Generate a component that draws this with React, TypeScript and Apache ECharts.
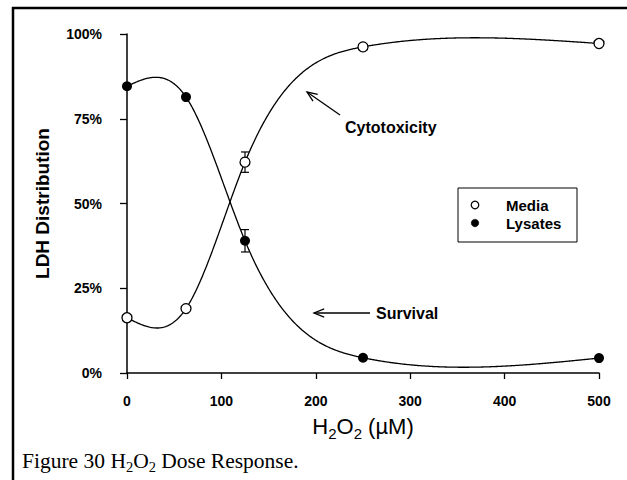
import React, { useEffect, useRef } from "react";
import * as echarts from "echarts";

// ---- data ----
const doses = [0, 62.5, 125, 250, 500]; // H2O2 (µM)
const mediaValues = [16.3, 19.0, 62.2, 96.2, 97.2]; // % LDH in media (cytotoxicity)
const mediaErrors = [0, 0, 3.0, 0, 0];
const lysateValues = [84.6, 81.4, 39.0, 4.5, 4.4]; // % LDH in lysates (survival)
const lysateErrors = [0, 0, 3.3, 0, 0];
const xTicks = [0, 100, 200, 300, 400, 500];
const yTicks = [0, 25, 50, 75, 100];
const legendNames = ["Media", "Lysates"];

const FONT = '"Liberation Sans", Arial, Helvetica, sans-serif';
const SERIF = '"Liberation Serif", "Times New Roman", serif';

// natural cubic spline through the data points (data space)
function naturalSpline(xs: number[], ys: number[]) {
  const n = xs.length;
  const h: number[] = [];
  for (let i = 0; i < n - 1; i++) h[i] = xs[i + 1] - xs[i];
  const alpha: number[] = [0];
  for (let i = 1; i < n - 1; i++)
    alpha[i] = (3 / h[i]) * (ys[i + 1] - ys[i]) - (3 / h[i - 1]) * (ys[i] - ys[i - 1]);
  const l: number[] = [1];
  const mu: number[] = [0];
  const z: number[] = [0];
  for (let i = 1; i < n - 1; i++) {
    l[i] = 2 * (xs[i + 1] - xs[i - 1]) - h[i - 1] * mu[i - 1];
    mu[i] = h[i] / l[i];
    z[i] = (alpha[i] - h[i - 1] * z[i - 1]) / l[i];
  }
  l[n - 1] = 1;
  z[n - 1] = 0;
  const c: number[] = new Array(n).fill(0);
  const b: number[] = [];
  const d: number[] = [];
  for (let j = n - 2; j >= 0; j--) {
    c[j] = z[j] - mu[j] * c[j + 1];
    b[j] = (ys[j + 1] - ys[j]) / h[j] - (h[j] * (c[j + 1] + 2 * c[j])) / 3;
    d[j] = (c[j + 1] - c[j]) / (3 * h[j]);
  }
  return (x: number) => {
    let j = 0;
    while (j < n - 2 && x > xs[j + 1]) j++;
    const dx = x - xs[j];
    return ys[j] + b[j] * dx + c[j] * dx * dx + d[j] * dx * dx * dx;
  };
}

function curveSeries(name: string, ys: number[]) {
  return {
    type: "custom",
    name,
    silent: true,
    clip: false,
    z: 2,
    data: [[doses[0], ys[0]]],
    renderItem: (params: any, api: any) => {
      const f = naturalSpline(doses, ys);
      const pts: number[][] = [];
      const x0 = doses[0];
      const x1 = doses[doses.length - 1];
      for (let x = x0; x <= x1; x += 1) pts.push(api.coord([x, f(x)]));
      return {
        type: "polyline",
        shape: { points: pts },
        style: { stroke: "#000", lineWidth: 1.3, fill: null },
      };
    },
  };
}

function errorSeries(name: string, vals: number[], errs: number[]) {
  const data = doses
    .map((d, i) => [d, vals[i] - errs[i], vals[i] + errs[i]])
    .filter((_, i) => errs[i] > 0);
  return {
    type: "custom",
    name,
    silent: true,
    clip: false,
    z: 3,
    encode: { x: 0, y: [1, 2] },
    data,
    renderItem: (params: any, api: any) => {
      const x = api.value(0);
      const lo = api.coord([x, api.value(1)]);
      const hi = api.coord([x, api.value(2)]);
      const w = 4;
      const st = { stroke: "#000", lineWidth: 1.2 };
      return {
        type: "group",
        children: [
          { type: "line", shape: { x1: lo[0], y1: lo[1], x2: hi[0], y2: hi[1] }, style: st },
          { type: "line", shape: { x1: lo[0] - w, y1: lo[1], x2: lo[0] + w, y2: lo[1] }, style: st },
          { type: "line", shape: { x1: hi[0] - w, y1: hi[1], x2: hi[0] + w, y2: hi[1] }, style: st },
        ],
      };
    },
  };
}

function arrow(tail: number[], tip: number[], len = 11, ang = 22) {
  const dx = tail[0] - tip[0];
  const dy = tail[1] - tip[1];
  const L = Math.hypot(dx, dy);
  const ux = dx / L;
  const uy = dy / L;
  const a = (ang * Math.PI) / 180;
  const rot = (s: number) => [
    tip[0] + len * (ux * Math.cos(s * a) - uy * Math.sin(s * a)),
    tip[1] + len * (ux * Math.sin(s * a) + uy * Math.cos(s * a)),
  ];
  return [
    {
      type: "line",
      silent: true,
      shape: { x1: tail[0], y1: tail[1], x2: tip[0], y2: tip[1] },
      style: { stroke: "#000", lineWidth: 1.3 },
    },
    {
      type: "polyline",
      silent: true,
      shape: { points: [rot(1), tip, rot(-1)] },
      style: { stroke: "#000", lineWidth: 1.3, fill: null },
    },
  ];
}

export default function App() {
  const ref = useRef<HTMLDivElement>(null);

  useEffect(() => {
    if (!ref.current) return;
    const chart = echarts.init(ref.current, null, { renderer: "svg" });

    const legendBox = { x: 458, y: 188, w: 119, h: 54 };
    const legendStyles = [
      { fill: "#fff", stroke: "#000", lineWidth: 1.2 },
      { fill: "#000", stroke: "#000", lineWidth: 0.5 },
    ];
    const legendGraphics: any[] = [
      {
        type: "rect",
        silent: true,
        shape: { x: legendBox.x, y: legendBox.y, width: legendBox.w, height: legendBox.h },
        style: { fill: "#fff", stroke: "#000", lineWidth: 1 },
        z: 10,
      },
    ];
    legendNames.forEach((name, i) => {
      const cy = legendBox.y + 17 + i * 18;
      legendGraphics.push({
        type: "circle",
        silent: true,
        z: 11,
        shape: { cx: legendBox.x + 17, cy, r: 3.8 },
        style: legendStyles[i],
      });
      legendGraphics.push({
        type: "text",
        silent: true,
        z: 11,
        x: legendBox.x + 48,
        y: cy,
        style: {
          text: name,
          fill: "#000",
          font: `bold 15px ${FONT}`,
          verticalAlign: "middle",
          align: "left",
        },
      });
    });

    const option: any = {
      animation: false,
      backgroundColor: "#fff",
      grid: { left: 127, right: 28, top: 34, bottom: 107, containLabel: false },
      xAxis: {
        type: "value",
        min: xTicks[0],
        max: xTicks[xTicks.length - 1],
        interval: xTicks[1] - xTicks[0],
        offset: 6,
        splitLine: { show: false },
        axisLine: { show: true, lineStyle: { color: "#000", width: 1.5 } },
        axisTick: { show: true, length: 6, lineStyle: { color: "#000", width: 1.3 } },
        axisLabel: {
          margin: 15,
          color: "#000",
          fontFamily: FONT,
          fontWeight: "bold",
          fontSize: 14,
        },
        name: "{m|H}{s|2}{m|O}{s|2}{m| (µM)}",
        nameLocation: "middle",
        nameGap: 27,
        nameTextStyle: {
          color: "#000",
          fontFamily: FONT,
          rich: {
            m: { fontSize: 22, lineHeight: 24, fontFamily: FONT, color: "#000" },
            s: { fontSize: 15, lineHeight: 15, padding: [13, 0, 0, 0], fontFamily: FONT, color: "#000" },
          },
        },
      },
      yAxis: {
        type: "value",
        min: yTicks[0],
        max: yTicks[yTicks.length - 1],
        interval: yTicks[1] - yTicks[0],
        offset: 10,
        splitLine: { show: false },
        axisLine: { show: true, lineStyle: { color: "#000", width: 1.5 } },
        axisTick: { show: true, length: 7, lineStyle: { color: "#000", width: 1.3 } },
        axisLabel: {
          margin: 15,
          color: "#000",
          fontFamily: FONT,
          fontWeight: "bold",
          fontSize: 14,
          formatter: "{value}%",
        },
        name: "LDH Distribution",
        nameLocation: "middle",
        nameRotate: 90,
        nameGap: 65,
        nameTextStyle: {
          color: "#000",
          fontFamily: FONT,
          fontWeight: "bold",
          fontSize: 19,
        },
      },
      series: [
        curveSeries("Media curve", mediaValues),
        curveSeries("Lysates curve", lysateValues),
        errorSeries("Media error", mediaValues, mediaErrors),
        errorSeries("Lysates error", lysateValues, lysateErrors),
        {
          type: "scatter",
          name: legendNames[0],
          clip: false,
          z: 5,
          symbol: "circle",
          symbolSize: 10,
          itemStyle: { color: "#fff", borderColor: "#000", borderWidth: 1.3, opacity: 1 },
          data: doses.map((d, i) => [d, mediaValues[i]]),
        },
        {
          type: "scatter",
          name: legendNames[1],
          clip: false,
          z: 5,
          symbol: "circle",
          symbolSize: 10,
          itemStyle: { color: "#000", opacity: 1 },
          data: doses.map((d, i) => [d, lysateValues[i]]),
        },
      ],
      graphic: [
        // frame
        {
          type: "line",
          silent: true,
          shape: { x1: 12, y1: 8, x2: 627, y2: 8 },
          style: { stroke: "#000", lineWidth: 2.5 },
        },
        {
          type: "line",
          silent: true,
          shape: { x1: 13, y1: 7, x2: 13, y2: 480 },
          style: { stroke: "#000", lineWidth: 2.5 },
        },
        ...legendGraphics,
        // annotations
        {
          type: "text",
          silent: true,
          x: 345,
          y: 127,
          style: {
            text: "Cytotoxicity",
            fill: "#000",
            font: `bold 16px ${FONT}`,
            verticalAlign: "middle",
            align: "left",
          },
        },
        ...arrow([340, 115], [307, 92]),
        {
          type: "text",
          silent: true,
          x: 376,
          y: 313,
          style: {
            text: "Survival",
            fill: "#000",
            font: `bold 16px ${FONT}`,
            verticalAlign: "middle",
            align: "left",
          },
        },
        ...arrow([370, 313], [314, 313]),
        // caption
        {
          type: "text",
          silent: true,
          x: 22,
          y: 449,
          style: {
            text: "{a|Figure 30 H}{s|2}{a|O}{s|2}{a| Dose Response.}",
            verticalAlign: "top",
            align: "left",
            rich: {
              a: { fontSize: 21.5, lineHeight: 24, fontFamily: SERIF, fill: "#000" },
              s: { fontSize: 14.5, lineHeight: 14, padding: [12, 0, 0, 0], fontFamily: SERIF, fill: "#000" },
            },
          },
        },
      ],
    };

    chart.setOption(option);
    return () => chart.dispose();
  }, []);

  return (
    <div
      ref={ref}
      style={{ position: "fixed", left: 0, top: 0, width: 627, height: 480, background: "#fff" }}
    />
  );
}
